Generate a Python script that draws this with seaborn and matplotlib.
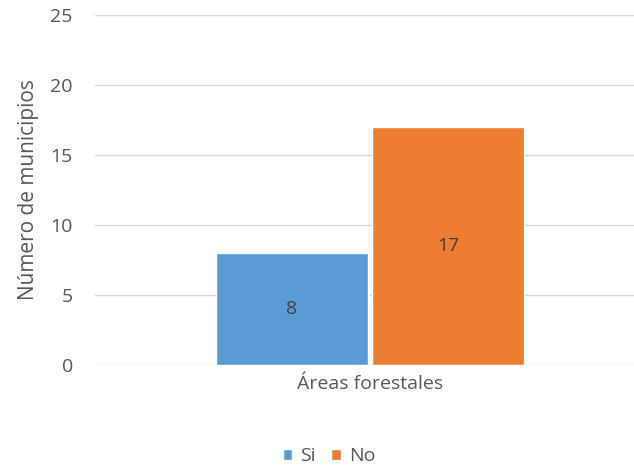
"""Municipios con / sin áreas forestales: bar chart in Excel style."""
import matplotlib
matplotlib.use("Agg")
import matplotlib.pyplot as plt
import pandas as pd
import seaborn as sns

categories = ["Áreas forestales"]
answers = ["Si", "No"]
counts = [8, 17]
colors = ["#5B9BD5", "#ED7D31"]

df = pd.DataFrame({
    "categoria": categories * len(answers),
    "respuesta": answers,
    "municipios": counts,
})

sns.set_style("white")
plt.rcParams["font.family"] = ["Open Sans", "DejaVu Sans"]
text_color = "#595959"

fig = plt.figure(figsize=(6.34, 4.68), dpi=100)
ax = fig.add_axes([95 / 634, 103 / 468, 550 / 634, 350 / 468])

sns.barplot(data=df, x="categoria", y="municipios", hue="respuesta",
            palette=colors, saturation=1, width=0.57, gap=0.03, ax=ax,
            legend=True)

for container in ax.containers:
    ax.bar_label(container, labels=[f"{v:.0f}" for v in container.datavalues],
                 label_type="center", fontsize=14, color="#404040")

ax.set_ylim(0, 25)
ax.set_yticks(range(0, 26, 5))
ax.set_xlim(-0.5, 0.5)
ax.yaxis.grid(True, color="#D9D9D9", linewidth=1)
ax.set_axisbelow(True)
for s in ax.spines.values():
    s.set_visible(False)
ax.tick_params(axis="both", length=0, labelsize=14, colors=text_color)
ax.tick_params(axis="y", pad=16)
ax.tick_params(axis="x", pad=7)
ax.set_xlabel("")
ax.set_ylabel("Número de municipios", fontsize=15, color=text_color, labelpad=8)

ax.legend(loc="center", bbox_to_anchor=(329 / 634, 12 / 468),
          bbox_transform=fig.transFigure, ncol=2, frameon=False,
          fontsize=14, labelcolor=text_color, handlelength=0.5,
          handleheight=0.5, handletextpad=0.4, columnspacing=0.8)

fig.savefig("out.png", dpi=100)
